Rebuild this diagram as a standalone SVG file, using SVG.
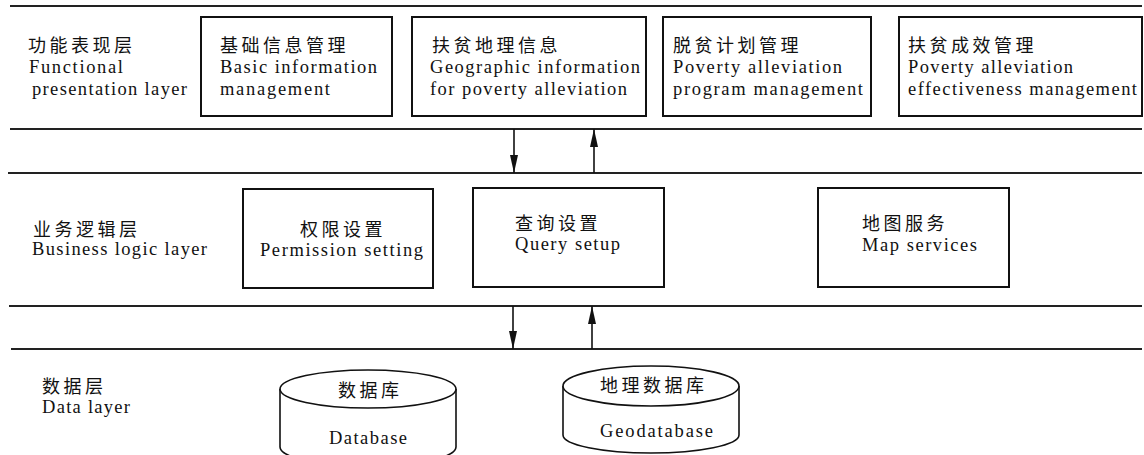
<svg xmlns="http://www.w3.org/2000/svg" width="1144" height="455" viewBox="0 0 1144 455">
<defs>
<style>
.zh{font-family:"Liberation Serif","Noto Sans CJK SC",serif;font-size:18px;letter-spacing:3.5px;fill:#111}
.en{font-family:"Liberation Serif","Noto Sans CJK SC",serif;font-size:18.5px;fill:#111}
.sep{stroke:#222;stroke-width:2;fill:none}
.box{stroke:#111;stroke-width:2;fill:#fff}
.con{stroke:#111;stroke-width:1.6;fill:none}
.cyl{stroke:#111;stroke-width:1.6;fill:#fff}
</style>
<marker id="ah" viewBox="0 0 18 8" refX="18" refY="4" markerWidth="18" markerHeight="8" markerUnits="userSpaceOnUse" orient="auto">
<path d="M0,0 L18,4 L0,8 Z" fill="#111"/>
</marker>
</defs>
<rect width="1144" height="455" fill="#fff"/>
<g id="layer-lines">
<line class="sep" x1="10" y1="6" x2="1142" y2="6"/>
<line class="sep" x1="10" y1="129" x2="1142" y2="129"/>
<line class="sep" x1="8" y1="173" x2="1142" y2="173"/>
<line class="sep" x1="9" y1="306" x2="1142" y2="306"/>
<line class="sep" x1="11" y1="349" x2="1142" y2="349"/>
</g>
<g id="layer-labels">
<text class="zh" x="28" y="51.5">功能表现层</text>
<text class="en" x="29" y="72.5" textLength="94" lengthAdjust="spacing">Functional</text>
<text class="en" x="32" y="94.5" textLength="155" lengthAdjust="spacing">presentation layer</text>
<text class="zh" x="33" y="235.5">业务逻辑层</text>
<text class="en" x="32" y="255" textLength="175" lengthAdjust="spacing">Business logic layer</text>
<text class="zh" x="42" y="392.5">数据层</text>
<text class="en" x="42" y="413" textLength="88" lengthAdjust="spacing">Data layer</text>
</g>
<g id="n-basic">
<rect class="box" x="201" y="17" width="191" height="99"/>
<text class="zh" x="220" y="51.5">基础信息管理</text>
<text class="en" x="220" y="72.5" textLength="157" lengthAdjust="spacing">Basic information</text>
<text class="en" x="220" y="94.5" textLength="110" lengthAdjust="spacing">management</text>
</g>
<g id="n-geo">
<rect class="box" x="412" y="17" width="234" height="99"/>
<text class="zh" x="432" y="51.5">扶贫地理信息</text>
<text class="en" x="430" y="72.5" textLength="210" lengthAdjust="spacing">Geographic information</text>
<text class="en" x="430" y="94.5" textLength="197" lengthAdjust="spacing">for poverty alleviation</text>
</g>
<g id="n-plan">
<rect class="box" x="663" y="17" width="208" height="99"/>
<text class="zh" x="673" y="51.5">脱贫计划管理</text>
<text class="en" x="673" y="72.5" textLength="169" lengthAdjust="spacing">Poverty alleviation</text>
<text class="en" x="673" y="94.5" textLength="190" lengthAdjust="spacing">program management</text>
</g>
<g id="n-effect">
<rect class="box" x="899" y="17" width="243" height="99"/>
<text class="zh" x="908" y="51.5">扶贫成效管理</text>
<text class="en" x="908" y="72.5" textLength="165" lengthAdjust="spacing">Poverty alleviation</text>
<text class="en" x="908" y="94.5" textLength="229" lengthAdjust="spacing">effectiveness management</text>
</g>
<g id="n-permission">
<rect class="box" x="243" y="189" width="190" height="99"/>
<text class="zh" x="300" y="235.5">权限设置</text>
<text class="en" x="260" y="256" textLength="163" lengthAdjust="spacing">Permission setting</text>
</g>
<g id="n-query">
<rect class="box" x="473" y="188" width="191" height="99"/>
<text class="zh" x="515" y="229.5">查询设置</text>
<text class="en" x="515" y="250" textLength="105" lengthAdjust="spacing">Query setup</text>
</g>
<g id="n-map">
<rect class="box" x="818" y="188" width="191" height="99"/>
<text class="zh" x="862" y="230">地图服务</text>
<text class="en" x="862" y="251" textLength="115" lengthAdjust="spacing">Map services</text>
</g>
<g id="n-database">
<path class="cyl" d="M280,389 L280,447 A88,19 0 0 0 456,447 L456,389"/>
<ellipse class="cyl" cx="368" cy="389" rx="88" ry="19"/>
<text class="zh" x="338" y="397">数据库</text>
<text class="en" x="329" y="444" textLength="78" lengthAdjust="spacing">Database</text>
</g>
<g id="n-geodatabase">
<path class="cyl" d="M563,386 L563,435 A88,18 0 0 0 739,435 L739,386"/>
<ellipse class="cyl" cx="651" cy="386" rx="88" ry="20"/>
<text class="zh" x="600" y="392">地理数据库</text>
<text class="en" x="600" y="437" textLength="113" lengthAdjust="spacing">Geodatabase</text>
</g>
<g id="connectors">
<line class="con" x1="514" y1="129" x2="514" y2="173" marker-end="url(#ah)"/>
<line class="con" x1="594" y1="173" x2="594" y2="129" stroke-width="2" marker-end="url(#ah)"/>
<line class="con" x1="513" y1="306" x2="513" y2="349" marker-end="url(#ah)"/>
<line class="con" x1="592" y1="349" x2="592" y2="306" stroke-width="2" marker-end="url(#ah)"/>
</g>
</svg>
